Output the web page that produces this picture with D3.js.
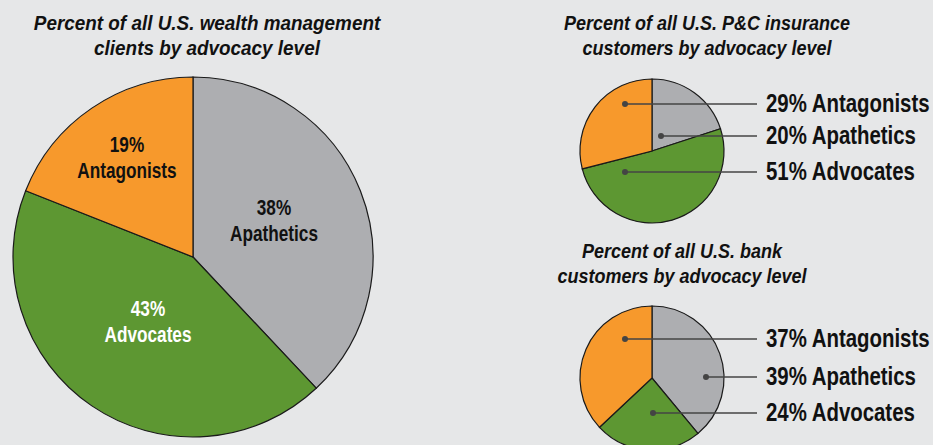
<!DOCTYPE html>
<meta charset="utf-8">
<style>
  body { margin: 0; background: #e6e7e8; }
  text { font-family: "Liberation Sans", Arial, sans-serif; font-weight: bold; }
</style>
<div id="chart"></div>
<script src="https://d3js.org/d3.v7.min.js"></script>
<script>

// order: drawn clockwise from 12 o'clock
const categories = ["Apathetics", "Advocates", "Antagonists"];
const wealthValues = [38, 43, 19];
const insuranceValues = [20, 51, 29];
const bankValues = [39, 24, 37];
const colors = ["#adaeb1", "#5d9732", "#f7992c"];

const wealthTitle = ["Percent of all U.S. wealth management", "clients by advocacy level"];
const insuranceTitle = ["Percent of all U.S. P&C insurance", "customers by advocacy level"];
const bankTitle = ["Percent of all U.S. bank", "customers by advocacy level"];

// legend order on the side labels
const legendOrder = ["Antagonists", "Apathetics", "Advocates"];

const width = 933, height = 445;
const squeeze = 0.8; // fake a condensed face
const titleSqueeze = 0.9;

const svg = d3.select("#chart")
  .append("svg")
    .attr("width", width)
    .attr("height", height)
    .style("background", "#e6e7e8");

const pie = d3.pie().sort(null).value(d => d.value);

function makeData(values) {
  return categories.map((c, i) => ({ name: c, value: values[i], color: colors[i] }));
}

// text squeezed horizontally around its anchor point
function addText(parent, str, x, y, size, anchor, fill, italic) {
  const k = italic ? titleSqueeze : squeeze;
  return parent.append("text")
    .attr("transform", `translate(${x},${y}) scale(${k},1)`)
    .attr("text-anchor", anchor)
    .style("font-size", size + "px")
    .style("font-style", italic ? "italic" : "normal")
    .style("fill", fill)
    .text(str);
}

function drawTitle(lines, cx, y0, size) {
  lines.forEach((l, i) => addText(svg, l, cx, y0 + i * 25, size, "middle", "#111", true));
}

function drawPie(values, cx, cy, r) {
  const g = svg.append("g").attr("transform", `translate(${cx},${cy})`);
  const arc = d3.arc().innerRadius(0).outerRadius(r);
  const arcs = pie(makeData(values));
  g.selectAll("path")
    .data(arcs)
    .join("path")
      .attr("d", arc)
      .attr("fill", d => d.data.color)
      .attr("stroke", "#1a1a1a")
      .attr("stroke-width", 1.2);
  return { g, arcs, arc };
}

// big pie: wealth management
drawTitle(wealthTitle, 207, 30, 21);
const big = drawPie(wealthValues, 193, 257, 180);
const bigLabelPos = { Apathetics: [81, -42], Advocates: [-45, 59], Antagonists: [-66, -105] };
big.arcs.forEach(d => {
  const p = bigLabelPos[d.data.name];
  const fill = d.data.name === "Advocates" ? "#fff" : "#111";
  addText(big.g, d.data.value + "%", p[0], p[1], 21.5, "middle", fill, false);
  addText(big.g, d.data.name, p[0], p[1] + 26, 21.5, "middle", fill, false);
});

// small pies with callout labels
function drawSmall(values, title, titleX, titleY, cx, cy, dots, rowsY) {
  drawTitle(title, titleX, titleY, 20);
  const p = drawPie(values, cx, cy, 72);
  const byName = {};
  p.arcs.forEach(a => byName[a.data.name] = a);
  legendOrder.forEach((name, i) => {
    const d = dots[name];
    const y = rowsY[i];
    svg.append("line")
      .attr("x1", cx + d[0]).attr("y1", cy + d[1])
      .attr("x2", 757).attr("y2", y)
      .attr("stroke", "#444")
      .attr("stroke-width", 1.6);
    svg.append("circle")
      .attr("cx", cx + d[0])
      .attr("cy", cy + d[1])
      .attr("r", 3)
      .attr("fill", "#444");
    addText(svg, byName[name].data.value + "% " + name, 766, y + 8, 25.5, "start", "#111", false);
  });
}

drawSmall(insuranceValues, insuranceTitle, 707, 30, 652, 151,
  { Antagonists: [-27, -47], Apathetics: [9, -15], Advocates: [-27, 21] },
  [104, 136, 172]);

drawSmall(bankValues, bankTitle, 682, 258, 652, 378,
  { Antagonists: [-27, -39], Apathetics: [54, -1], Advocates: [1, 35] },
  [339, 377, 413]);

</script>
